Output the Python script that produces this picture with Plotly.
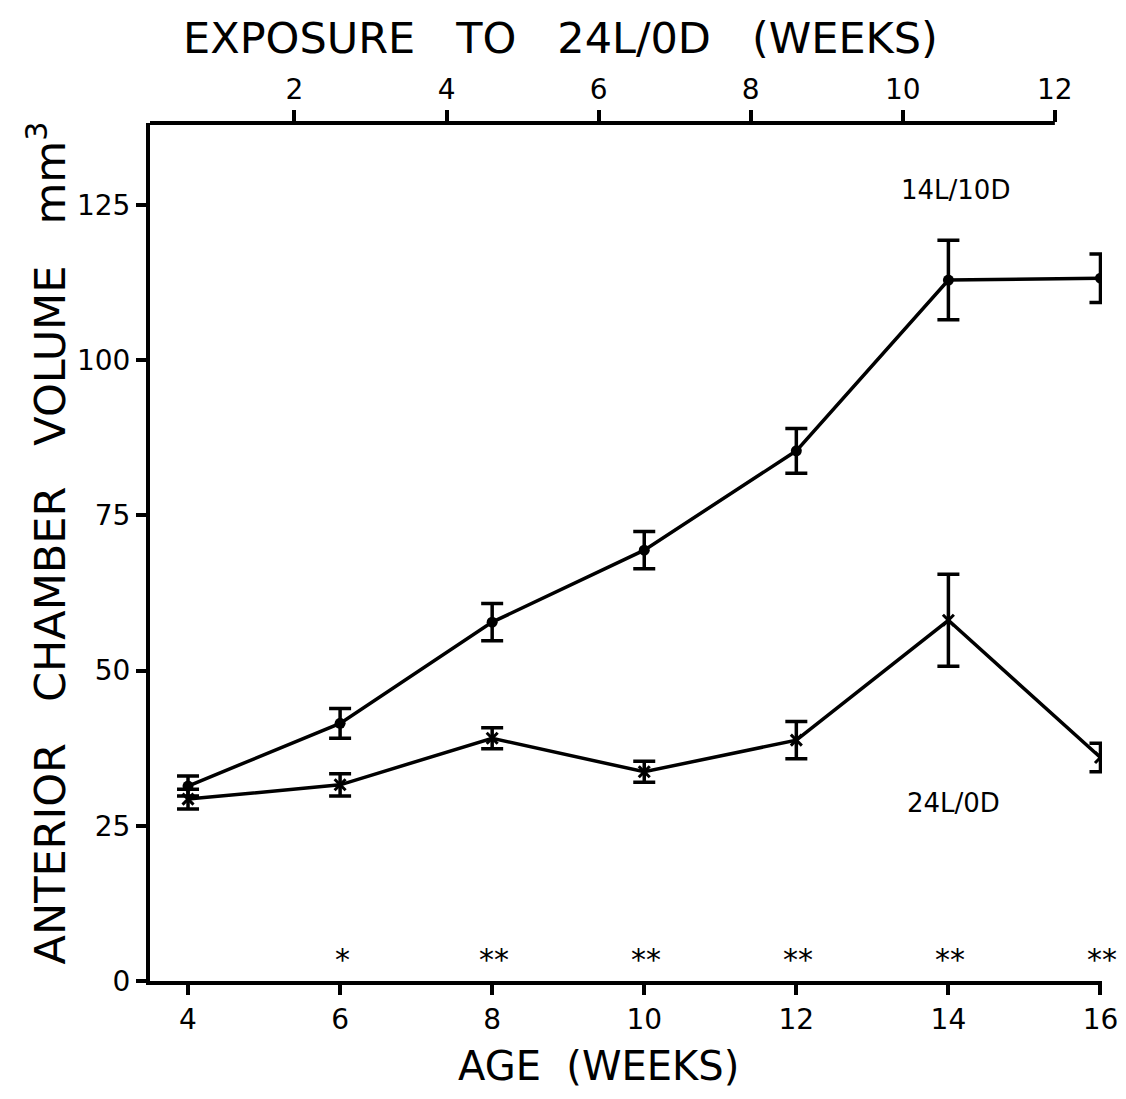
import plotly.graph_objects as go

# ---- data ----
age_weeks = [4, 6, 8, 10, 12, 14, 16]
vol_14L10D = [31.4, 41.5, 57.8, 69.4, 85.4, 112.9, 113.2]
err_14L10D = [1.6, 2.4, 3.0, 3.0, 3.6, 6.4, 3.9]
vol_24L0D = [29.3, 31.6, 39.1, 33.7, 38.8, 58.1, 36.0]
err_24L0D = [1.6, 1.8, 1.7, 1.7, 3.0, 7.4, 2.3]

age_ticks = [4, 6, 8, 10, 12, 14, 16]
exposure_ticks = [2, 4, 6, 8, 10, 12]
y_ticks = [0, 25, 50, 75, 100, 125]

signif_age = [6, 8, 10, 12, 14, 16]
signif_marks = ["*", "**", "**", "**", "**", "**"]

exposure_offset = 3.4  # age at which exposure starts (axis alignment)
x_range = [3.5, 16.02]
y_range = [0, 138.2]

FONT = "DejaVu Sans"
BLACK = "black"

fig = go.Figure()

fig.add_trace(go.Scatter(
    x=age_weeks, y=vol_14L10D, mode="lines+markers",
    line=dict(color=BLACK, width=3.5),
    marker=dict(symbol="circle", size=11, color=BLACK),
    error_y=dict(type="data", array=err_14L10D, color=BLACK, thickness=3.5, width=11),
    showlegend=False, name="14L/10D"))

fig.add_trace(go.Scatter(
    x=age_weeks, y=vol_24L0D, mode="lines+markers",
    line=dict(color=BLACK, width=3.5),
    marker=dict(symbol="x-thin", size=11, color=BLACK, line=dict(color=BLACK, width=3)),
    error_y=dict(type="data", array=err_24L0D, color=BLACK, thickness=3.5, width=11),
    showlegend=False, name="24L/0D"))

# empty trace to activate the top axis
fig.add_trace(go.Scatter(x=[None], y=[None], xaxis="x2", showlegend=False, hoverinfo="skip"))

annotations = []
for a, s in zip(signif_age, signif_marks):
    annotations.append(dict(x=a, y=3.4, xref="x", yref="y", text=s, showarrow=False,
                            font=dict(family=FONT, size=30, color=BLACK), xshift=2))

annotations.append(dict(x=14.09, y=127.4, xref="x", yref="y", text="14L/10D", showarrow=False,
                        font=dict(family=FONT, size=26, color=BLACK)))
annotations.append(dict(x=14.07, y=28.7, xref="x", yref="y", text="24L/0D", showarrow=False,
                        font=dict(family=FONT, size=26, color=BLACK)))
annotations.append(dict(x=0.4317, y=1.0, xref="paper", yref="paper", yshift=85,
                        xanchor="center", yanchor="middle",
                        text="EXPOSURE   TO   24L/0D   (WEEKS)", showarrow=False,
                        font=dict(family=FONT, size=43, color=BLACK)))
annotations.append(dict(x=0.4716, y=0.0, xref="paper", yref="paper", yshift=-85,
                        xanchor="center", yanchor="middle", borderpad=0,
                        text="AGE  (WEEKS)", showarrow=False,
                        font=dict(family=FONT, size=40, color=BLACK)))
annotations.append(dict(x=0.0, y=0.51, xref="paper", yref="paper", xshift=-103,
                        xanchor="center", yanchor="middle",
                        text="ANTERIOR   CHAMBER   VOLUME   mm<sup>3</sup>", showarrow=False, textangle=-90,
                        font=dict(family=FONT, size=43, color=BLACK)))

# the page body has an 8px margin, so the figure is sized to fit inside the window
fig.update_layout(
    width=1110, height=1083,
    margin=dict(l=142, r=16, t=115, b=110),
    paper_bgcolor="white", plot_bgcolor="white",
    font=dict(family=FONT, color=BLACK),
    annotations=annotations,
    xaxis=dict(range=x_range, tickvals=age_ticks, ticktext=[str(t) for t in age_ticks],
               showline=True, linewidth=4, linecolor=BLACK, ticks="outside", ticklen=10,
               tickwidth=3.5, tickcolor=BLACK, showgrid=False, zeroline=False, automargin=False,
               ticklabeloverflow="allow",
               tickfont=dict(family=FONT, size=28, color=BLACK)),
    xaxis2=dict(range=[x_range[0] - exposure_offset, x_range[1] - exposure_offset],
                overlaying="x", side="top", tickvals=exposure_ticks,
                showline=False, ticks="outside", ticklen=12, tickwidth=3.5, tickcolor=BLACK,
                showgrid=False, zeroline=False, automargin=False, ticklabeloverflow="allow",
                tickfont=dict(family=FONT, size=28, color=BLACK)),
    yaxis=dict(range=y_range, tickvals=y_ticks, showline=True, linewidth=4, linecolor=BLACK,
               ticks="outside", ticklen=10, tickwidth=3.5, tickcolor=BLACK, showgrid=False,
               zeroline=False, automargin=False, ticklabeloverflow="allow",
               tickfont=dict(family=FONT, size=28, color=BLACK)),
    shapes=[dict(type="line", xref="x2", yref="paper", x0=x_range[0] - exposure_offset,
                 x1=exposure_ticks[-1], y0=1, y1=1, line=dict(color=BLACK, width=4))],
)

fig.write_html("out.html")
